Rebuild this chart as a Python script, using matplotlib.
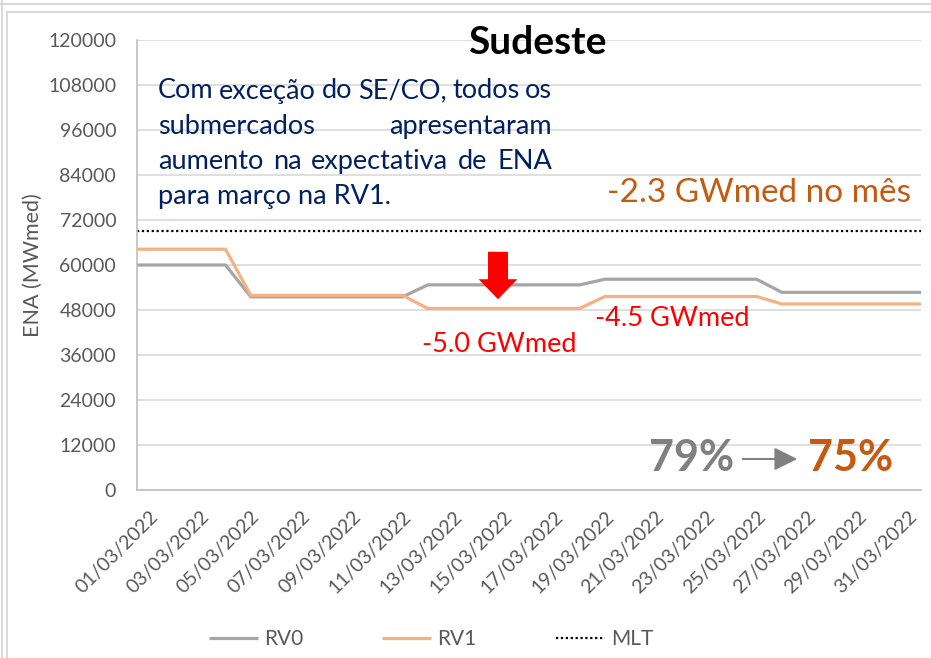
import matplotlib.pyplot as plt
import matplotlib.patches as mpatches
import numpy as np

plt.rcParams['font.family'] = ['Lato', 'DejaVu Sans']

W, H = 931, 658

# data (MWmed), one value per day of March 2022
dates = ['%02d/03/2022' % d for d in range(1, 32)]
rv0 = [60000, 60000, 60000, 60000,
       51500, 51500, 51500, 51500, 51500, 51500, 51500,
       54700, 54700, 54700, 54700, 54700, 54700, 54700,
       56200, 56200, 56200, 56200, 56200, 56200, 56200,
       52700, 52700, 52700, 52700, 52700, 52700]
rv1 = [64200, 64200, 64200, 64200,
       51900, 51900, 51900, 51900, 51900, 51900, 51900,
       48400, 48400, 48400, 48400, 48400, 48400, 48400,
       51600, 51600, 51600, 51600, 51600, 51600, 51600,
       49600, 49600, 49600, 49600, 49600, 49600]
mlt = [69100] * 31

yticks = np.arange(0, 120001, 12000)

def px(x, y):
    # pixel position -> figure fraction
    return x / W, 1 - y / H

fig = plt.figure(figsize=(W / 100, H / 100), dpi=100)
ax = fig.add_axes([137 / W, 1 - 490 / H, (921 - 137) / W, 450 / H])

# lines run across the whole category width (half a day past first/last point)
x = np.arange(len(dates))
xe = np.r_[x[0] - 0.5, x, x[-1] + 0.5]
ext = lambda v: np.pad(np.array(v, dtype=float), 1, mode='edge')

ax.plot(xe, ext(rv0), color='#a5a5a5', lw=2.3, label='RV0', solid_capstyle='butt')
ax.plot(xe, ext(rv1), color='#f4b183', lw=2.3, label='RV1', solid_capstyle='butt')
ax.plot(xe, ext(mlt), color='black', lw=1.6, ls=(0, (1, 1.2)), label='MLT')

ax.set_xlim(-0.5, len(dates) - 0.5)
ax.set_ylim(0, 120000)
ax.set_yticks(yticks)
ax.set_xticks(x[::2])
ax.set_xticklabels(dates[::2], rotation=45, ha='right', rotation_mode='anchor')
ax.grid(axis='y', color='#d9d9d9', lw=1.2)
ax.set_axisbelow(True)
for s in ['top', 'right']:
    ax.spines[s].set_visible(False)
for s in ['left', 'bottom']:
    ax.spines[s].set_color('#bfbfbf')
    ax.spines[s].set_linewidth(1.2)
ax.tick_params(axis='y', length=0, pad=15, labelsize=14, labelcolor='#595959')
ax.tick_params(axis='x', length=0, pad=13, labelsize=14, labelcolor='#595959')
ax.set_ylabel('ENA (MWmed)', fontsize=15.5, color='#595959', labelpad=4)

# title and annotations
fig.text(*px(537, 42), 'Sudeste', fontsize=28, fontweight='bold', ha='center', va='center')
fig.text(*px(759, 193), '-2.3 GWmed no mês', fontsize=24, color='#c55a11', ha='center', va='center')
fig.text(*px(499, 345), '-5.0 GWmed', fontsize=19.5, color='red', ha='center', va='center')
fig.text(*px(672, 318), '-4.5 GWmed', fontsize=19.5, color='red', ha='center', va='center')
fig.text(*px(692, 458), '79%', fontsize=31, fontweight='bold', color='#808080', ha='center', va='center')
fig.text(*px(851, 458), '75%', fontsize=31, fontweight='bold', color='#c55a11', ha='center', va='center')
fig.add_artist(mpatches.FancyArrowPatch(px(740, 459), px(800, 459), transform=fig.transFigure,
                                        arrowstyle='-|>,head_length=0.7,head_width=0.35',
                                        mutation_scale=20, color='#808080', lw=1.5))
fig.add_artist(mpatches.FancyArrowPatch(px(498, 249), px(498, 302), transform=fig.transFigure,
                                        arrowstyle='simple,head_length=0.72,head_width=1.4,tail_width=0.72',
                                        mutation_scale=20, color='red', lw=0))

# justified text box
lines = ['Com exceção do SE/CO, todos os',
         'submercados apresentaram',
         'aumento na expectativa de ENA',
         'para março na RV1.']
box_l, box_r = 158, 552
fs_box = 19.5
r = fig.canvas.get_renderer()
for i, line in enumerate(lines):
    y = 91 + i * 35.3
    words = line.split(' ')
    if i == len(lines) - 1:
        fig.text(*px(box_l, y), line, fontsize=fs_box, color='#002060', va='center')
        continue
    ts = [fig.text(*px(0, y), w_, fontsize=fs_box, color='#002060', va='center') for w_ in words]
    widths = [t.get_window_extent(r).width for t in ts]
    gap = (box_r - box_l - sum(widths)) / (len(words) - 1)
    xpos = box_l
    for t, wd in zip(ts, widths):
        t.set_x(xpos / W)
        xpos += wd + gap

# legend
fig.legend(loc='center', bbox_to_anchor=px(431, 639), ncol=3, frameon=False,
           fontsize=15, labelcolor='#595959', handlelength=2.35, handletextpad=0.3,
           columnspacing=3.8)

# chart frame
fig.add_artist(mpatches.Rectangle(px(7, 660), (W - 6) / W, (660 - 12) / H, transform=fig.transFigure,
                                  fill=False, edgecolor='#d9d9d9', lw=1.5))
fig.add_artist(plt.Line2D([0, 1], [1 - 4 / H] * 2, transform=fig.transFigure, color='#d9d9d9', lw=1.5))
fig.add_artist(plt.Line2D([2 / W] * 2, [0, 1], transform=fig.transFigure, color='#d9d9d9', lw=1.5))

fig.savefig('out.png', dpi=100)
